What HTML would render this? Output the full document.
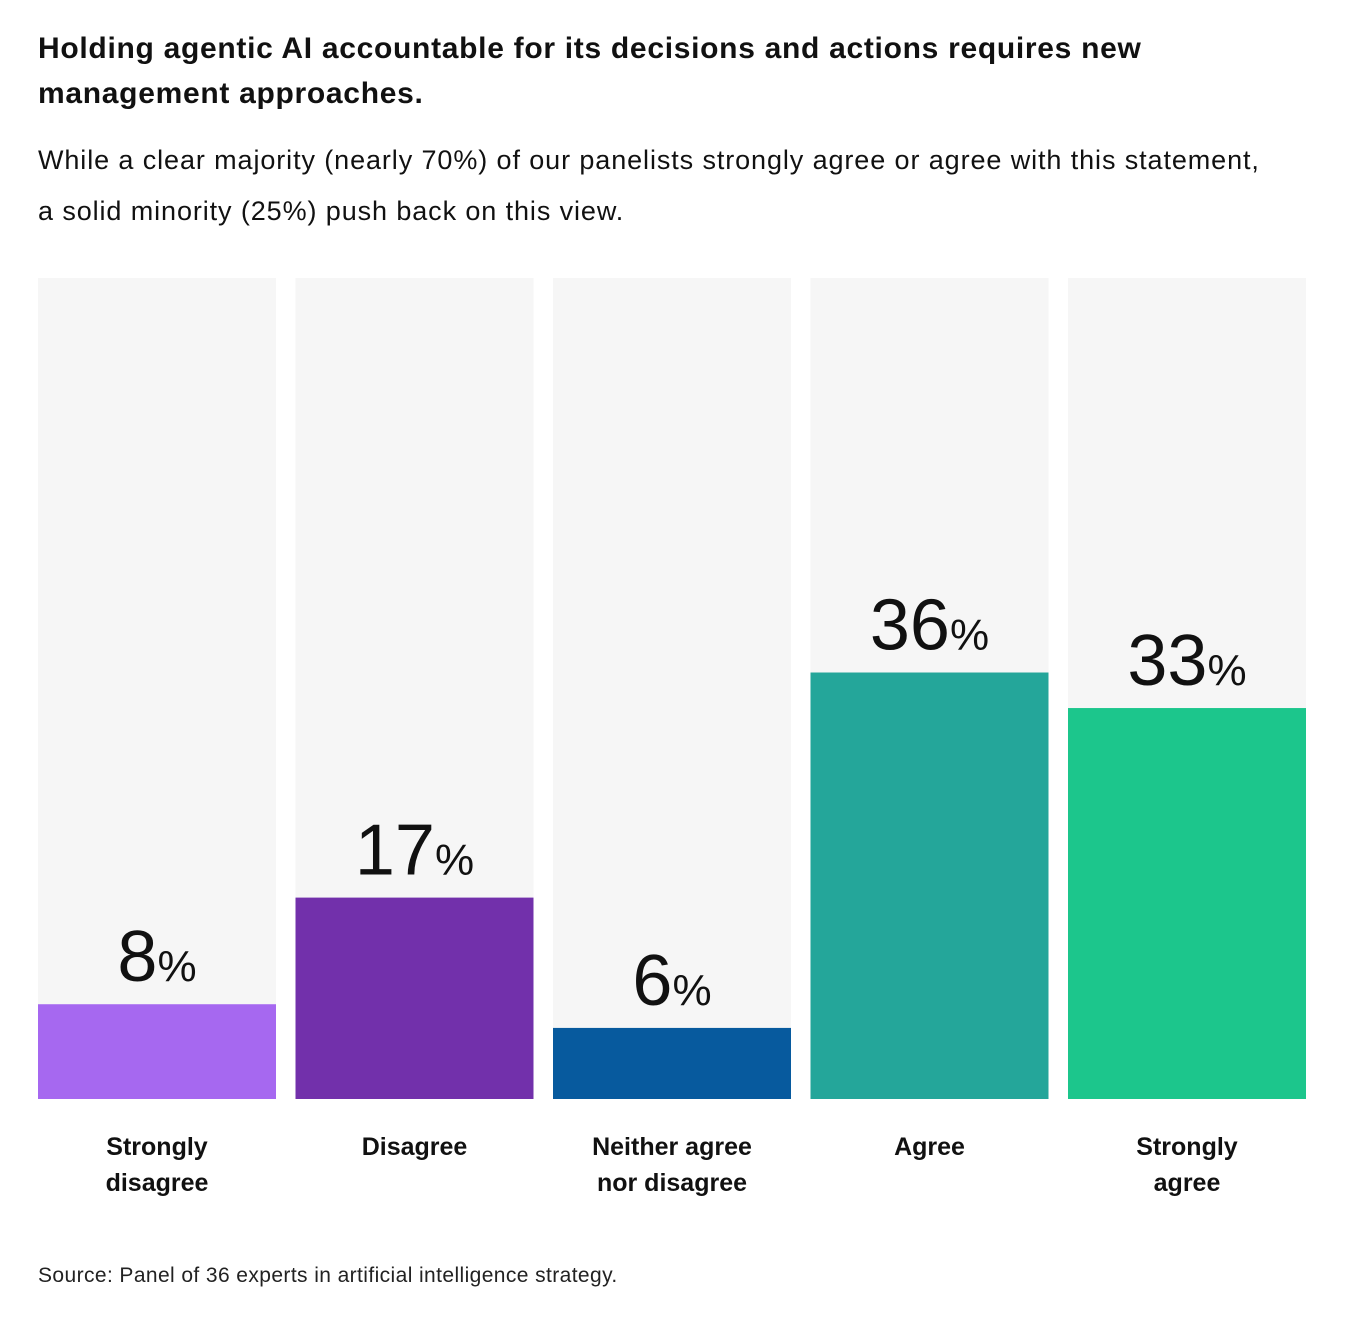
<!DOCTYPE html>
<html><head><meta charset="utf-8"><style>
body{margin:0;background:#fff;font-family:"Liberation Sans",sans-serif;color:#111;}
#wrap{position:relative;width:1366px;height:1322px;overflow:hidden;}
.t{position:absolute;left:38px;white-space:nowrap;}
</style></head><body>
<div id="wrap">
<div class="t" style="top:26px;font-size:30px;letter-spacing:0.7px;font-weight:bold;line-height:45px;">Holding agentic AI accountable for its decisions and actions requires new<br>management approaches.</div>
<div class="t" style="top:135px;font-size:27px;letter-spacing:0.9px;line-height:51px;">While a clear majority (nearly 70%) of our panelists strongly agree or agree with this statement,<br>a solid minority (25%) push back on this view.</div>
<svg id="chart" width="1366" height="1322" style="position:absolute;left:0;top:0"></svg>
<div class="t" style="top:1264px;font-size:21px;letter-spacing:0.4px;color:#222;">Source: Panel of 36 experts in artificial intelligence strategy.</div>
</div>
<script>
const categories=[["Strongly","disagree"],["Disagree"],["Neither agree","nor disagree"],["Agree"],["Strongly","agree"]];
const values=[8,17,6,36,33];
const colors=["#a668f0","#7230ab","#075a9e","#24a69a","#1cc68c"];
const svg=document.getElementById('chart');const NS="http://www.w3.org/2000/svg";
const x0=38,bw=238,step=257.5,yTop=278,yBottom=1099,maxV=69.3;
const yScale=v=>yBottom-(v/maxV)*(yBottom-yTop);
function mk(t,a){const e=document.createElementNS(NS,t);for(const k in a)e.setAttribute(k,a[k]);svg.appendChild(e);return e;}
values.forEach((v,i)=>{
const x=x0+i*step;
const bg=mk('rect',{x:x,y:yTop,width:bw,height:yBottom-yTop,fill:'#f6f6f6'});


const r=mk('rect',{x:x,y:yScale(v),width:bw,height:yBottom-yScale(v),fill:colors[i]});


const t=mk('text',{x:x+bw/2,y:yScale(v)-23,'text-anchor':'middle','font-size':72,fill:'#111'});


t.textContent=v;
const p=document.createElementNS(NS,'tspan');p.setAttribute('font-size','44');p.textContent='%';t.appendChild(p);
const c=mk('text',{x:x+bw/2,y:1155,'text-anchor':'middle','font-size':25,'font-weight':'bold',fill:'#111'});


categories[i].forEach((l,j)=>{const s=document.createElementNS(NS,'tspan');s.setAttribute('x',x+bw/2);s.setAttribute('dy',j?36:0);s.textContent=l;c.appendChild(s);});
});
</script>
</body></html>
